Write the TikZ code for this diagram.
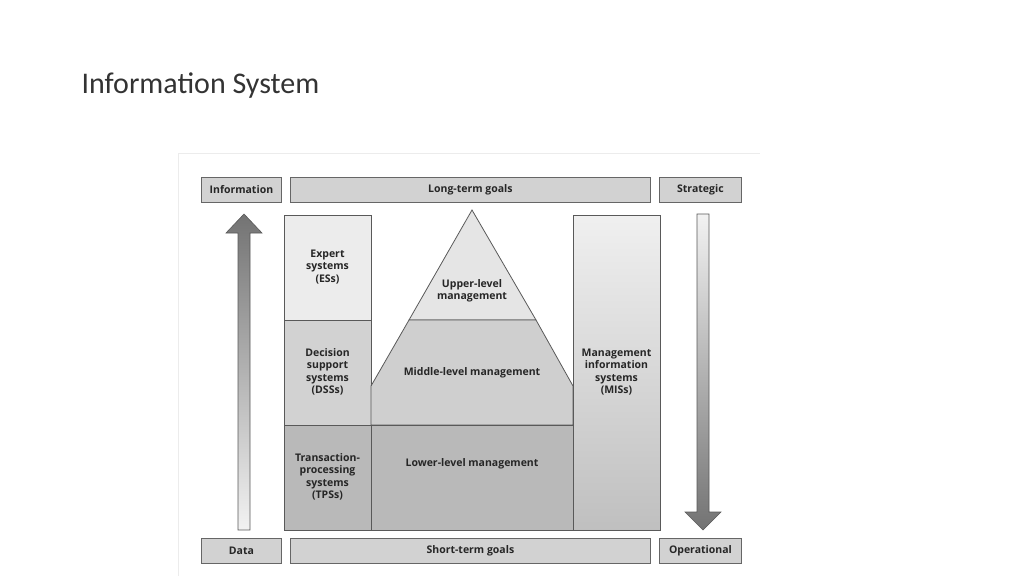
\documentclass[tikz,border=0pt]{standalone}
\usepackage{fontspec}
\setmainfont{Open Sans}
\newfontfamily\titlefont{Carlito}
\usetikzlibrary{positioning}
\begin{document}
\begin{tikzpicture}[x=1pt, y=-1pt,
        lbl/.style={draw=gray!80!black, fill=gray!35, line width=0.8pt, inner sep=0pt, anchor=north west,
            font=\fontsize{10.5}{12}\selectfont\bfseries, text=black!85},
        txt/.style={align=center, font=\fontsize{10.5}{12.5}\selectfont\bfseries, text=black!85},
        part/.style={draw=gray!70!black, line width=0.8pt}]
        \useasboundingbox (0,0) rectangle (1024,576);
        \node[anchor=west, font=\titlefont\fontsize{30}{36}\selectfont, text=black!80] (title) at (78,86) {Information System};
        \draw[gray!15, line width=1pt] (178,576) -- (178,153) -- (760,153);
        % goal bars
        \node[lbl, minimum width=80pt, minimum height=25pt] (info) at (201,177) {Information};
        \node[lbl, minimum width=360pt, minimum height=25pt] (long) at (290,177) {Long-term goals};
        \node[lbl, minimum width=82pt, minimum height=25pt] (strat) at (659,177) {Strategic};
        \node[lbl, minimum width=80pt, minimum height=25pt] (data) at (201,538) {Data};
        \node[lbl, minimum width=360pt, minimum height=25pt] (short) at (290,538) {Short-term goals};
        \node[lbl, minimum width=82pt, minimum height=25pt] (oper) at (659,538) {Operational};
        % arrows
        \shade[top color=gray!90!black, bottom color=gray!10, draw=gray!70!black, line width=0.6pt]
            (238,530) -- (238,233) -- (226,233) -- (244,214) -- (262,233) -- (250,233) -- (250,530) -- cycle;
        \shade[top color=gray!10, bottom color=gray!90!black, draw=gray!70!black, line width=0.6pt]
            (697,214) -- (697,512) -- (685,512) -- (703,530) -- (721,512) -- (709,512) -- (709,214) -- cycle;
        % left column
        \filldraw[part, fill=gray!15] (284,215) rectangle (371,320);
        \filldraw[part, fill=gray!35] (284,320) rectangle (371,425);
        \filldraw[part, fill=gray!55] (284,425) rectangle (371,530);
        \node[txt] (es) at (327.5,267) {Expert\\systems\\(ESs)};
        \node[txt] (dss) at (327.5,372) {Decision\\support\\systems\\(DSSs)};
        \node[txt] (tps) at (327.5,477) {Transaction-\\processing\\systems\\(TPSs)};
        % pyramid
        \filldraw[part, fill=gray!20] (472,210) -- (536,320) -- (409,320) -- cycle;
        \filldraw[part, fill=gray!38] (409,320) -- (536,320) -- (573,386) -- (573,425) -- (371,425) -- (371,386) -- cycle;
        \filldraw[part, fill=gray!55] (371,425) rectangle (573,530);
        \node[txt] (upper) at (472,291) {Upper-level\\management};
        \node[txt] (middle) at (472,373) {Middle-level management};
        \node[txt] (lower) at (472,464) {Lower-level management};
        % right column
        \shade[top color=gray!12, bottom color=gray!50] (573,215) rectangle (660,530);
        \draw[part] (573,215) rectangle (660,530);
        \node[txt] (mis) at (616.5,372) {Management\\information\\systems\\(MISs)};
\end{tikzpicture}
\end{document}
